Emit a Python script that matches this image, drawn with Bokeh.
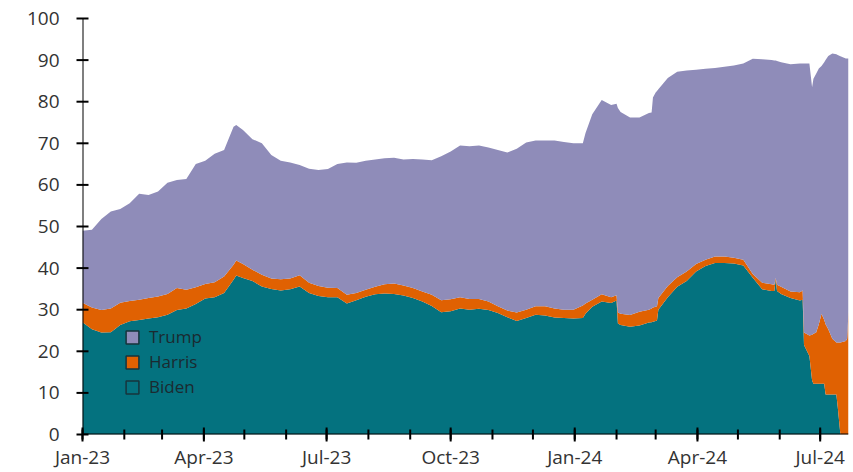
import math
import pandas as pd
from bokeh.plotting import figure
from bokeh.models import (ColumnDataSource, FixedTicker, DatetimeTickFormatter,
                          Legend, LegendItem, Range1d, Span)
from bokeh.embed import file_html
from bokeh.resources import INLINE

# ---------------- data ----------------
dates = [
    "2023-01-01", "2023-01-08", "2023-01-15", "2023-01-22", "2023-01-29",
    "2023-02-05", "2023-02-12", "2023-02-19", "2023-02-26", "2023-03-05",
    "2023-03-12", "2023-03-19", "2023-03-26", "2023-04-02", "2023-04-09",
    "2023-04-16", "2023-04-23", "2023-04-25", "2023-04-30", "2023-05-07",
    "2023-05-14", "2023-05-21", "2023-05-28", "2023-06-04", "2023-06-11",
    "2023-06-18", "2023-06-25", "2023-07-02", "2023-07-09", "2023-07-16",
    "2023-07-23", "2023-07-30", "2023-08-06", "2023-08-13", "2023-08-20",
    "2023-08-27", "2023-09-03", "2023-09-10", "2023-09-17", "2023-09-24",
    "2023-10-01", "2023-10-08", "2023-10-15", "2023-10-22", "2023-10-29",
    "2023-11-05", "2023-11-12", "2023-11-19", "2023-11-26", "2023-12-03",
    "2023-12-10", "2023-12-17", "2023-12-24", "2023-12-31", "2024-01-07",
    "2024-01-09", "2024-01-14", "2024-01-21", "2024-01-28", "2024-02-01",
    "2024-02-02", "2024-02-04", "2024-02-11", "2024-02-18", "2024-02-25",
    "2024-02-27", "2024-02-28", "2024-03-01", "2024-03-02", "2024-03-03",
    "2024-03-10", "2024-03-17", "2024-03-24", "2024-03-31", "2024-04-07",
    "2024-04-14", "2024-04-21", "2024-04-28", "2024-05-05", "2024-05-12",
    "2024-05-19", "2024-05-26", "2024-05-28", "2024-05-29", "2024-05-30",
    "2024-06-02", "2024-06-09", "2024-06-16", "2024-06-18", "2024-06-19",
    "2024-06-23", "2024-06-25", "2024-06-26", "2024-06-28", "2024-06-30",
    "2024-07-02", "2024-07-04", "2024-07-05", "2024-07-07", "2024-07-10",
    "2024-07-13", "2024-07-14", "2024-07-16", "2024-07-20", "2024-07-21",
    "2024-07-22",
]

biden = [
    27.0, 25.3, 24.5, 24.6, 26.3, 27.2, 27.5, 27.9, 28.2, 28.8,
    29.9, 30.3, 31.4, 32.7, 33.0, 34.0, 37.2, 38.2, 37.6, 36.9,
    35.6, 35.0, 34.6, 34.9, 35.6, 34.0, 33.3, 33.0, 33.0, 31.5,
    32.3, 33.1, 33.7, 33.9, 33.8, 33.4, 32.8, 32.0, 30.9, 29.4,
    29.6, 30.3, 30.0, 30.2, 29.9, 29.2, 28.2, 27.3, 28.0, 28.8,
    28.6, 28.1, 28.0, 27.9, 28.0, 29.0, 30.7, 32.0, 31.6, 32.2,
    26.7, 26.3, 25.9, 26.2, 26.9, 27.0, 27.1, 27.3, 27.4, 30.0,
    33.0, 35.5, 36.9, 39.2, 40.5, 41.2, 41.2, 41.1, 40.6, 37.7,
    34.9, 34.5, 34.5, 37.2, 34.5, 33.8, 32.8, 32.2, 32.4, 21.5,
    18.9, 13.0, 12.2, 12.2, 12.2, 12.2, 12.2, 9.6, 9.6, 9.6,
    9.6, 6.7, 0.0, 0.0, 0.0, 0.0,
]

harris = [
    4.7, 5.2, 5.4, 5.7, 5.4, 4.9, 4.9, 4.9, 5.0, 5.0,
    5.3, 4.5, 4.0, 3.5, 3.6, 4.0, 3.6, 3.6, 3.4, 2.7,
    2.8, 2.5, 2.7, 2.6, 2.7, 2.5, 2.4, 2.3, 2.2, 2.1,
    1.7, 1.7, 1.8, 2.2, 2.5, 2.4, 2.4, 2.4, 2.7, 2.9,
    2.9, 2.7, 2.6, 2.4, 2.1, 1.6, 1.6, 2.0, 2.0, 2.0,
    2.2, 2.2, 2.0, 2.1, 3.0, 2.5, 1.7, 1.7, 1.4, 1.3,
    2.6, 2.7, 2.8, 3.3, 3.1, 3.3, 3.4, 3.4, 3.4, 2.8,
    2.7, 2.3, 2.3, 1.8, 1.5, 1.6, 1.6, 1.4, 1.4, 0.9,
    1.6, 1.6, 1.5, 0.4, 1.5, 1.7, 1.6, 2.0, 2.2, 3.0,
    4.9, 11.0, 12.0, 12.3, 14.3, 16.8, 15.3, 16.9, 15.7, 13.4,
    12.5, 15.4, 22.1, 22.5, 23.0, 29.6,
]

trump = [
    17.3, 18.7, 21.9, 23.3, 22.5, 23.5, 25.5, 24.8, 25.2, 26.7,
    26.0, 26.6, 29.6, 29.6, 30.9, 30.4, 33.2, 32.6, 32.2, 31.4,
    31.6, 29.7, 28.5, 27.9, 26.5, 27.4, 27.9, 28.5, 29.8, 31.8,
    31.3, 31.0, 30.6, 30.3, 30.2, 30.3, 31.0, 31.7, 32.3, 34.6,
    35.5, 36.5, 36.7, 36.9, 37.0, 37.6, 38.0, 39.4, 40.2, 39.9,
    39.9, 40.4, 40.3, 40.0, 39.0, 41.0, 44.6, 46.7, 46.2, 46.0,
    49.2, 48.5, 47.5, 46.7, 47.3, 47.1, 50.5, 51.5, 51.8, 50.2,
    50.0, 49.4, 48.3, 46.7, 45.9, 45.3, 45.6, 46.2, 47.2, 51.7,
    53.7, 53.9, 53.9, 52.3, 53.8, 54.0, 54.6, 55.0, 54.6, 64.7,
    65.4, 59.5, 61.3, 62.2, 61.5, 59.6, 62.0, 63.5, 65.7, 68.6,
    69.3, 69.1, 68.8, 67.9, 67.4, 60.8,
]

series_names = ["Biden", "Harris", "Trump"]
legend_order = ["Trump", "Harris", "Biden"]

quarter_ticks = ["2023-01-01", "2023-04-01", "2023-07-01", "2023-10-01",
                 "2024-01-01", "2024-04-01", "2024-07-01"]
month_ticks = [str(d.date()) for d in
               pd.date_range("2023-01-01", "2024-07-01", freq="MS")]
y_ticks = list(range(0, 101, 10))
x_start, x_end = "2023-01-01", "2024-07-22"

# ---------------- styling ----------------
COLORS = {"Biden": "#04727F", "Harris": "#E06102", "Trump": "#8F8CB9"}
EDGE = "#17353D"
FONT = "Open Sans"
TEXT = "#333333"


def ms(d):
    return pd.Timestamp(d).value / 1e6


source = ColumnDataSource(dict(
    date=pd.to_datetime(dates), Biden=biden, Harris=harris, Trump=trump))

p = figure(width=850, height=472, x_axis_type="datetime",
           x_range=Range1d(pd.Timestamp(x_start), pd.Timestamp(x_end)),
           y_range=Range1d(0, 100),
           output_backend="svg", toolbar_location=None,
           min_border_left=82, min_border_right=2,
           min_border_top=18, min_border_bottom=38)
p.outline_line_color = None
p.xgrid.visible = False
p.ygrid.visible = False
p.background_fill_color = "white"
p.border_fill_color = "white"

p.varea_stack(stackers=series_names, x="date", source=source,
              color=[COLORS[n] for n in series_names])

# legend proxies (outlined squares); NaN keeps them off the plot itself
nan = float("nan")
items = []
for n in legend_order:
    r = p.quad(left=[nan], right=[nan], top=[nan], bottom=[nan],
               fill_color=COLORS[n], line_color=EDGE, line_width=1.5)
    items.append(LegendItem(label=n, renderers=[r]))

legend = Legend(items=items, location=(42, 35),
                border_line_color=None, background_fill_alpha=0,
                padding=0, margin=0, spacing=0,
                glyph_width=16, glyph_height=16, label_height=25,
                label_standoff=9,
                label_text_font=FONT, label_text_font_size="17px",
                label_text_color="#1B2A30")
p.add_layout(legend)

# axis lines and inward tick marks, drawn on top of the areas
p.add_layout(Span(location=0, dimension="width", line_color="black",
                  line_width=2))
p.add_layout(Span(location=pd.Timestamp(x_start), dimension="height",
                  line_color="black", line_width=2))
p.scatter(x=pd.to_datetime(month_ticks), y=[0] * len(month_ticks),
          marker="dash", angle=math.pi / 2, size=10, line_width=2,
          line_color="black", level="overlay")
p.scatter(x=pd.to_datetime(quarter_ticks), y=[0] * len(quarter_ticks),
          marker="dash", angle=math.pi / 2, size=14, line_width=2,
          line_color="black", level="overlay")
p.scatter(x=[pd.Timestamp(x_start)] * len(y_ticks), y=y_ticks,
          marker="dash", size=12, line_width=2,
          line_color="black", level="overlay")

# x axis (labels)
xa = p.xaxis[0]
xa.ticker = FixedTicker(ticks=[ms(d) for d in quarter_ticks],
                        minor_ticks=[ms(d) for d in month_ticks])
fmt = "%b-%y"
xa.formatter = DatetimeTickFormatter(
    microseconds=fmt, milliseconds=fmt, seconds=fmt, minsec=fmt,
    minutes=fmt, hourmin=fmt, hours=fmt, days=fmt, months=fmt, years=fmt)
xa.major_tick_in = 0
xa.major_tick_out = 0
xa.minor_tick_in = 0
xa.minor_tick_out = 0
xa.axis_line_color = None
xa.major_tick_line_color = None
xa.minor_tick_line_color = None
xa.major_label_standoff = 9
xa.major_label_text_font = FONT
xa.major_label_text_font_size = "19px"
xa.major_label_text_color = TEXT

# y axis (labels)
ya = p.yaxis[0]
ya.ticker = FixedTicker(ticks=y_ticks)
ya.major_tick_in = 0
ya.major_tick_out = 0
ya.axis_line_color = None
ya.major_tick_line_color = None
ya.minor_tick_line_color = None
ya.major_label_standoff = 23
ya.major_label_text_font = FONT
ya.major_label_text_font_size = "19px"
ya.major_label_text_color = TEXT

open("out.html", "w").write(file_html(p, INLINE))
